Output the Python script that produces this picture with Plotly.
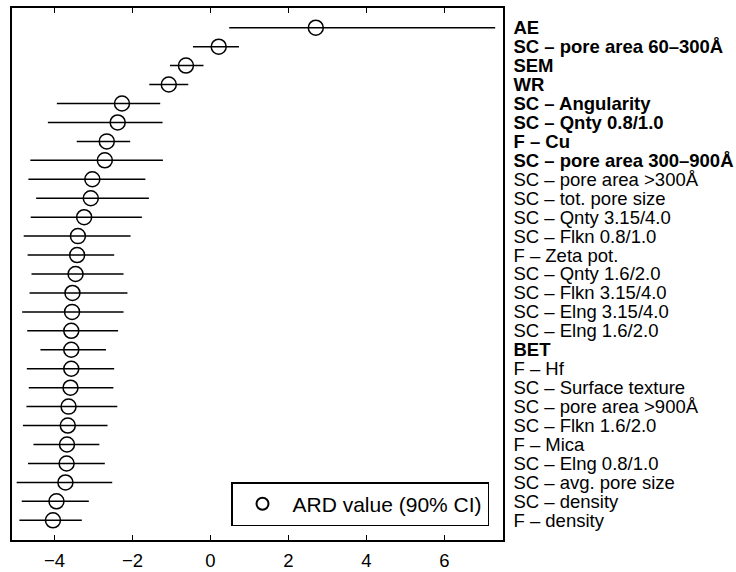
import plotly.graph_objects as go

labels = [
    "AE", "SC – pore area 60–300Å", "SEM", "WR", "SC – Angularity",
    "SC – Qnty 0.8/1.0", "F – Cu", "SC – pore area 300–900Å",
    "SC – pore area >300Å", "SC – tot. pore size", "SC – Qnty 3.15/4.0",
    "SC – Flkn 0.8/1.0", "F – Zeta pot.", "SC – Qnty 1.6/2.0",
    "SC – Flkn 3.15/4.0", "SC – Elng 3.15/4.0", "SC – Elng 1.6/2.0",
    "BET", "F – Hf", "SC – Surface texture", "SC – pore area >900Å",
    "SC – Flkn 1.6/2.0", "F – Mica", "SC – Elng 0.8/1.0",
    "SC – avg. pore size", "SC – density", "F – density",
]
bold_labels = ["AE", "SC – pore area 60–300Å", "SEM", "WR", "SC – Angularity",
               "SC – Qnty 0.8/1.0", "F – Cu", "SC – pore area 300–900Å", "BET"]

ard = [2.70, 0.21, -0.63, -1.07, -2.27, -2.38, -2.66, -2.71, -3.03, -3.07,
       -3.24, -3.40, -3.42, -3.46, -3.54, -3.55, -3.57, -3.57, -3.57, -3.59,
       -3.64, -3.66, -3.68, -3.69, -3.72, -3.95, -4.04]
ci_low = [0.48, -0.45, -1.04, -1.57, -3.94, -4.17, -3.43, -4.62, -4.67, -4.47,
          -4.61, -4.79, -4.69, -4.59, -4.64, -4.83, -4.70, -4.36, -4.71, -4.66,
          -4.72, -4.81, -4.54, -4.68, -4.97, -4.84, -4.90]
ci_high = [7.30, 0.73, -0.18, -0.57, -1.29, -1.23, -2.06, -1.22, -1.67, -1.58,
           -1.76, -2.05, -2.47, -2.23, -2.13, -2.23, -2.37, -2.68, -2.47, -2.49,
           -2.39, -2.64, -2.85, -2.71, -2.52, -3.12, -3.30]

x_ticks = [-4, -2, 0, 2, 4, 6]

err_plus = [h - v for h, v in zip(ci_high, ard)]
err_minus = [v - l for v, l in zip(ard, ci_low)]
tick_text = [f"<b>{s}</b>" if s in bold_labels else s for s in labels]

FONT = "Liberation Sans, Arial, Helvetica, sans-serif"

fig = go.Figure()
fig.add_trace(go.Scatter(
    x=ard, y=labels, mode="markers", name="ARD value (90% CI)",
    marker=dict(symbol="circle-open", size=15, color="black", line=dict(width=1.5, color="black")),
    error_x=dict(type="data", symmetric=False, array=err_plus, arrayminus=err_minus,
                 width=0, thickness=1.5, color="black"),
    cliponaxis=True,
))

fig.update_layout(
    width=736, height=572,
    margin=dict(l=12, r=233, t=8, b=32, autoexpand=False),
    paper_bgcolor="white", plot_bgcolor="white",
    font=dict(family=FONT, size=18.5, color="black"),
    showlegend=True,
    legend=dict(
        x=0.9715, y=0.026, xanchor="right", yanchor="bottom",
        bordercolor="black", borderwidth=1.5, bgcolor="white",
        itemwidth=50, itemsizing="constant",
        font=dict(family=FONT, size=21, color="black"),
        tracegroupgap=0,
    ),
    xaxis=dict(
        range=[-5.09, 7.50], tickvals=x_ticks, ticks="inside", ticklen=5,
        tickwidth=1.2, tickcolor="black", showline=True, linecolor="black",
        linewidth=1.5, mirror="allticks", showgrid=False, zeroline=False,
        tickfont=dict(size=18.5), ticklabelstandoff=3, automargin=False,
    ),
    yaxis=dict(
        type="category", categoryorder="array", categoryarray=labels,
        range=[27.04, -1.04], side="right", ticks="",
        tickvals=labels, ticktext=tick_text,
        showline=True, linecolor="black", linewidth=1.5, mirror=True,
        showgrid=False, zeroline=False, tickfont=dict(size=18.5),
        ticklabelstandoff=5, automargin=False,
    ),
)

fig.write_html("out.html")
